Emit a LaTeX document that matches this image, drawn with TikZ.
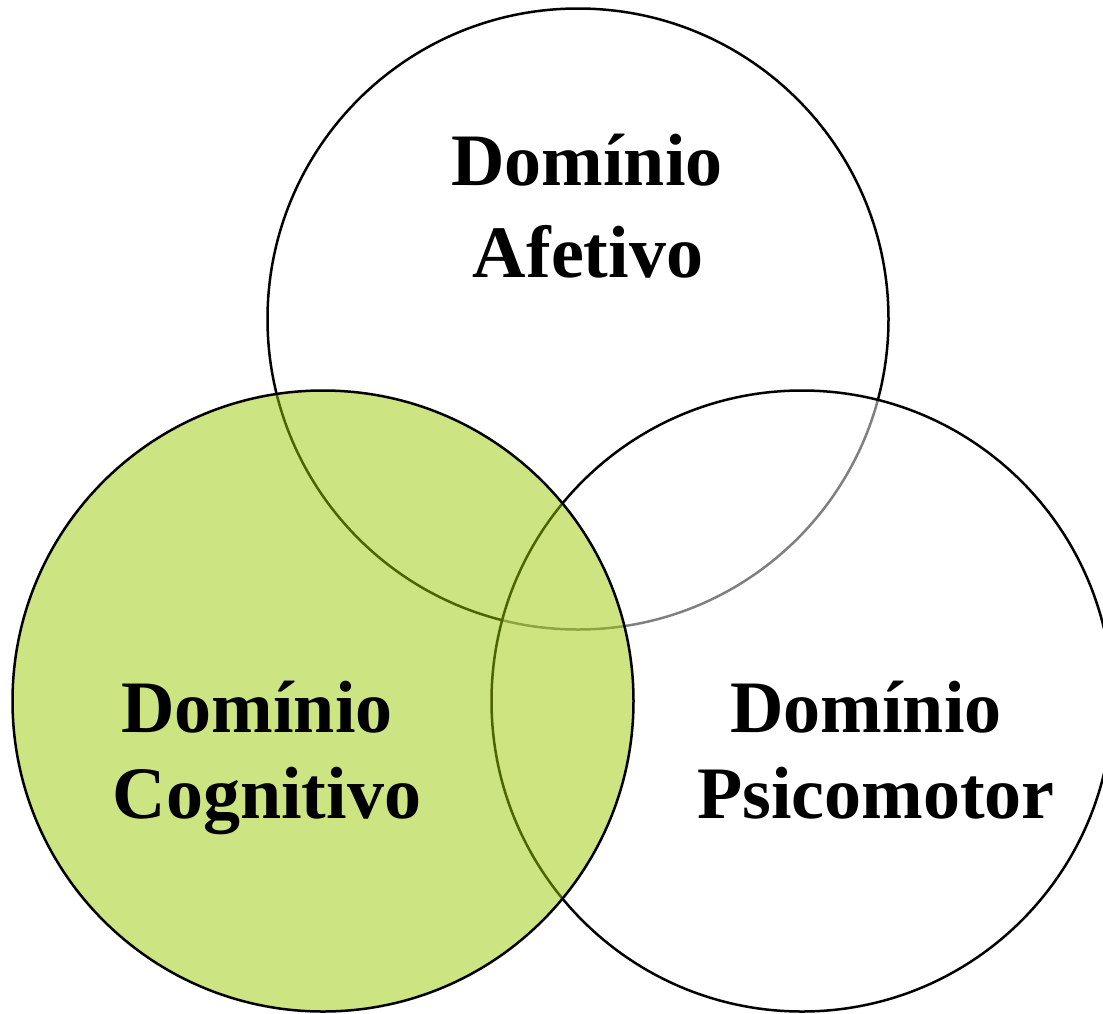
\documentclass[tikz,border=0pt]{standalone}
\usepackage{fontspec}
\setmainfont{Liberation Serif}
\usetikzlibrary{positioning}
\definecolor{cognitivegreen}{RGB}{155,201,5}
\tikzset{%
    domain circle/.style={%
        circle,
        draw=black,
        line width=2.5pt,
        inner sep = 0pt,
        outer sep = 0pt,
        minimum size=621pt
    },
    shaded domain/.style={%
        domain circle,
        fill=white,
        fill opacity=0.5,
        text opacity=1
    },
    cognitive domain/.style={%
        domain circle,
        fill=cognitivegreen,
        fill opacity=0.5,
        text opacity=1
    },
    label text/.style={%
        anchor=base,
        inner sep = 0pt,
        font=\fontsize{74}{92}\selectfont\bfseries
    },
}
\begin{document}
\begin{tikzpicture}[x=1pt, y=-1pt]

    \useasboundingbox (0,0) rectangle (1103,1013);
    \clip (0,0) rectangle (1103,1013);

    \node[domain circle] (afetivo) at (578,319) {};
    \node[shaded domain] (psicomotor) at (802,701) {};
    \node[cognitive domain] (cognitivo) at (323,701) {};

    \node[label text] (afetivoA) at (587,185) {Domínio};
    \node[label text] (afetivoB) at ([xshift=1pt, yshift=-92pt]afetivoA.base) {Afetivo};

    \node[label text] (cognitivoA) at (257,732) {Domínio};
    \node[label text] (cognitivoB) at ([xshift=10pt, yshift=-86pt]cognitivoA.base) {Cognitivo};

    \node[label text] (psicomotorA) at (866,732) {Domínio};
    \node[label text] (psicomotorB) at ([xshift=10pt, yshift=-86pt]psicomotorA.base) {Psicomotor};
\end{tikzpicture}
\end{document}
